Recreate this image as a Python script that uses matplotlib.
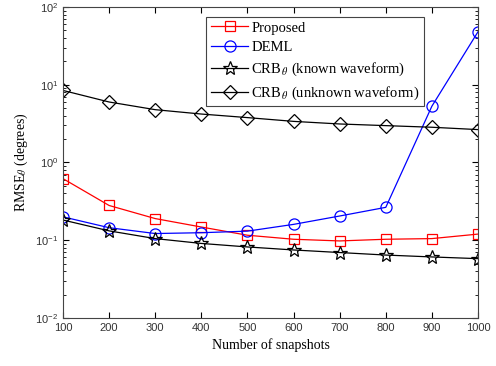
import numpy as np
import matplotlib.pyplot as plt

snapshots = [100, 200, 300, 400, 500, 600, 700, 800, 900, 1000]
proposed = [0.62, 0.28, 0.19, 0.148, 0.116, 0.103, 0.098, 0.103, 0.105, 0.12]
deml = [0.20, 0.145, 0.122, 0.125, 0.131, 0.16, 0.205, 0.265, 5.3, 48]
crb_known = [0.182, 0.132, 0.105, 0.091, 0.082, 0.075, 0.0695, 0.0645, 0.061, 0.058]
crb_unknown = [8.45, 6.0, 4.78, 4.2, 3.78, 3.38, 3.13, 2.98, 2.84, 2.65]

serif = ['Liberation Serif', 'DejaVu Serif']
sans = ['Liberation Sans', 'DejaVu Sans']
plt.rcParams['mathtext.fontset'] = 'stix'

fig = plt.figure(figsize=(4.96, 3.66), dpi=100)
ax = fig.add_axes([63/496, 1-318/366, (478-63)/496, (318-7)/366])

ax.semilogy(snapshots, proposed, 'r-s', mfc='none', ms=7.5, lw=0.9, mew=0.9, label='Proposed')
ax.semilogy(snapshots, deml, 'b-o', mfc='none', ms=8, lw=0.9, mew=0.9, label='DEML')
ax.semilogy(snapshots, crb_known, 'k-*', mfc='none', ms=10, lw=0.9, mew=0.9,
            label=r'CRB$_{\,\theta}$ (known waveform)')
ax.semilogy(snapshots, crb_unknown, 'k-D', mfc='none', ms=7, lw=0.9, mew=0.9,
            label=r'CRB$_{\,\theta}$ (unknown waveform)')

ax.set_xlim(100, 1000)
ax.set_ylim(1e-2, 1e2)
ax.set_xticks(snapshots)
ax.tick_params(which='both', direction='in', top=True, right=True, labelsize=8)
ax.tick_params(which='major', length=4)
ax.tick_params(which='minor', length=2)
for lab in ax.get_xticklabels() + ax.get_yticklabels():
    lab.set_family(sans)
    lab.set_color('#333333')
for s in ax.spines.values():
    s.set_linewidth(0.8)
    s.set_color('#444444')

ax.set_xlabel('Number of snapshots', family=serif, fontsize=10)
ax.set_ylabel(r'RMSE$_\theta$ (degrees)', family=serif, fontsize=10)

leg = ax.legend(loc='upper left', bbox_to_anchor=(0.345, 0.968), borderaxespad=0,
                prop={'family': serif, 'size': 10.5},
                fancybox=False, edgecolor='#444444', framealpha=1, handlelength=2.6,
                borderpad=0.3, labelspacing=0.45, handletextpad=0.2)
leg.get_frame().set_linewidth(0.8)

fig.savefig('out.png', dpi=100)
